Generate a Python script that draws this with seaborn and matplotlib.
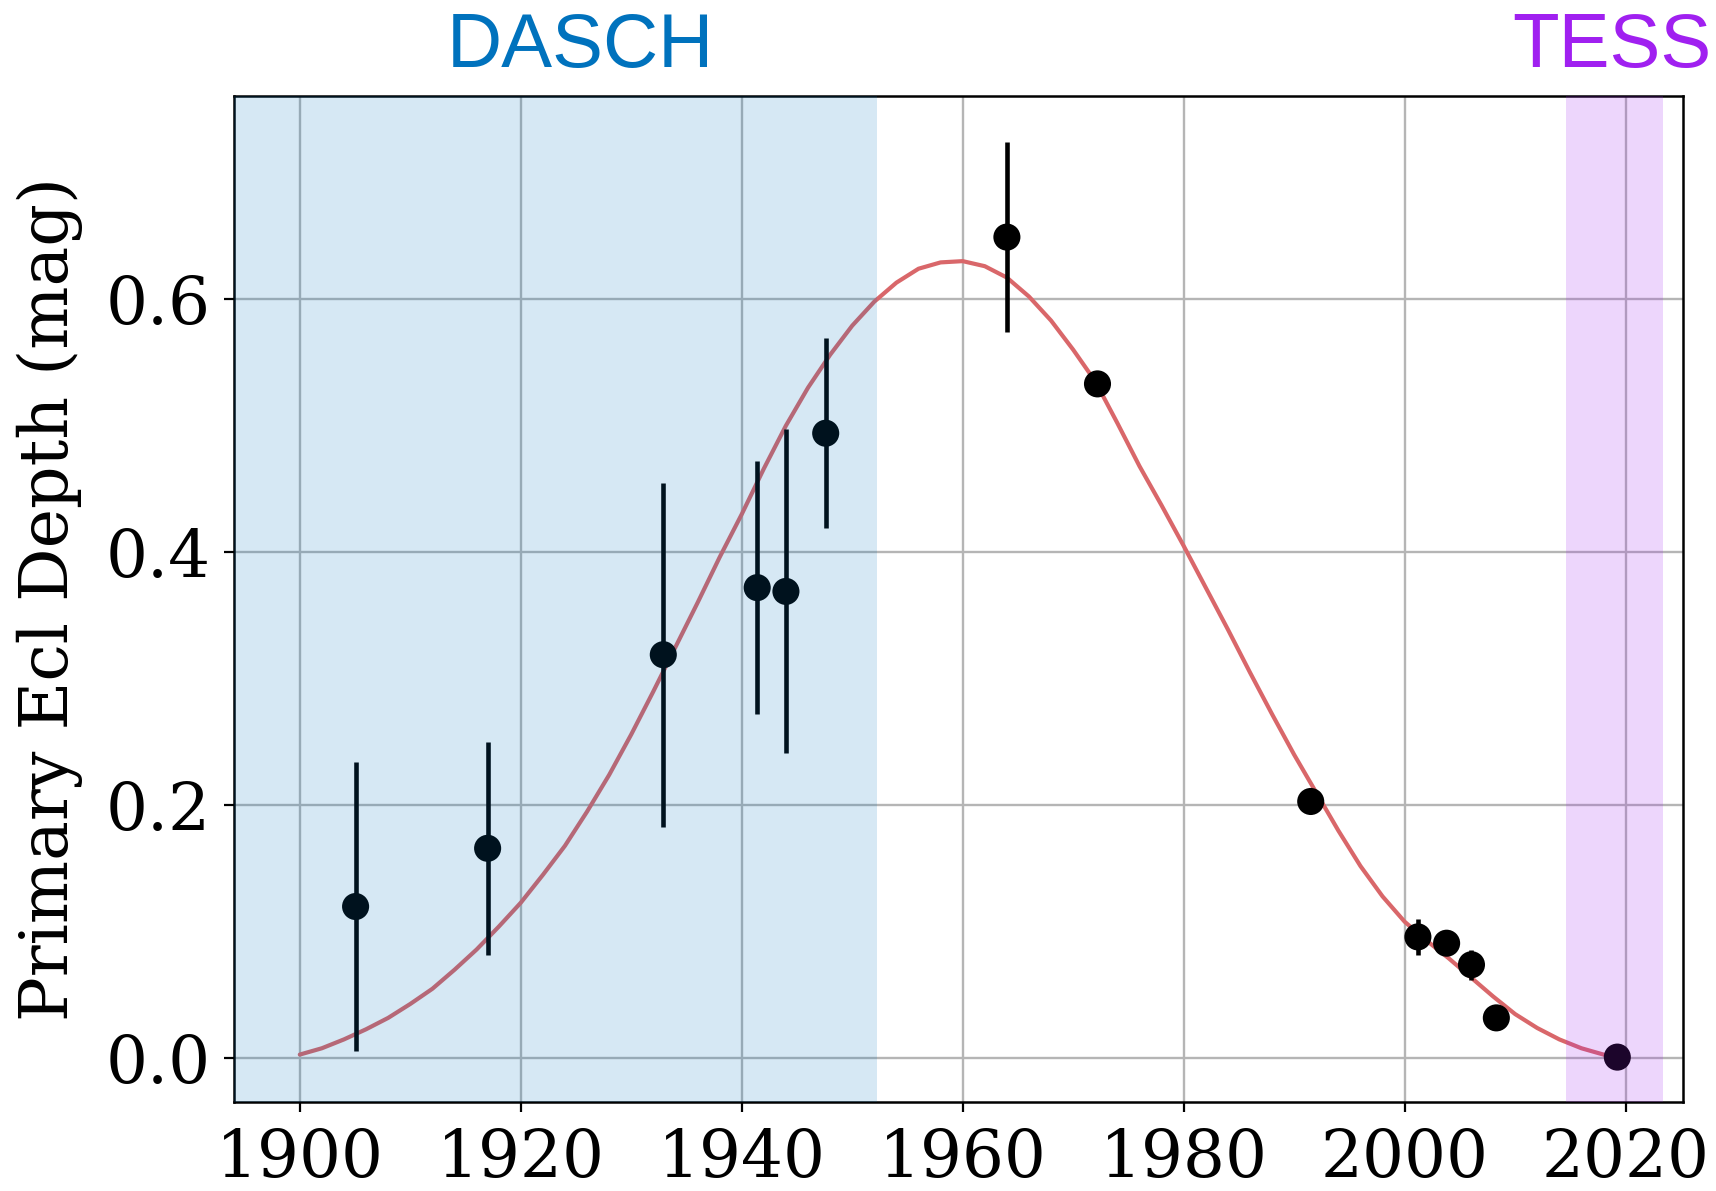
import numpy as np
import pandas as pd
import matplotlib
matplotlib.use("Agg")
import matplotlib.pyplot as plt
import seaborn as sns

# ---- data ----
obs_year = [1905.05, 1917.0, 1932.9, 1941.4, 1944.0, 1947.6, 1964.0, 1972.2,
            1991.5, 2001.2, 2003.8, 2006.05, 2008.3, 2019.25]
obs_depth = [0.120, 0.166, 0.319, 0.372, 0.369, 0.494, 0.649, 0.533,
             0.203, 0.096, 0.091, 0.074, 0.032, 0.001]
obs_err = [0.114, 0.084, 0.136, 0.100, 0.128, 0.075, 0.075, 0.004,
           0.004, 0.0145, 0.004, 0.012, 0.004, 0.004]

model_year = [1900, 1902, 1904, 1906, 1908, 1910, 1912, 1914, 1916, 1918,
              1920, 1922, 1924, 1926, 1928, 1930, 1932, 1934, 1936, 1938,
              1940, 1942, 1944, 1946, 1948, 1950, 1952, 1954, 1956, 1958,
              1960, 1962, 1964, 1966, 1968, 1970, 1972, 1974, 1976, 1978,
              1980, 1982, 1984, 1986, 1988, 1990, 1992, 1994, 1996, 1998,
              2000, 2002, 2004, 2006, 2008, 2010, 2012, 2014, 2016, 2018,
              2019.3]
model_depth = [0.003, 0.008, 0.015, 0.023, 0.032, 0.043, 0.055, 0.070, 0.086, 0.104,
               0.123, 0.145, 0.168, 0.195, 0.224, 0.256, 0.290, 0.325, 0.360, 0.396,
               0.430, 0.466, 0.500, 0.530, 0.556, 0.579, 0.598, 0.613, 0.624, 0.629,
               0.630, 0.626, 0.617, 0.602, 0.583, 0.560, 0.535, 0.502, 0.468, 0.437,
               0.405, 0.372, 0.339, 0.305, 0.272, 0.240, 0.210, 0.180, 0.152, 0.128,
               0.108, 0.093, 0.079, 0.064, 0.049, 0.035, 0.024, 0.015, 0.008, 0.003,
               0.000]

x_ticks = [1900, 1920, 1940, 1960, 1980, 2000, 2020]
y_ticks = [0.0, 0.2, 0.4, 0.6]
dasch_span = (1880, 1952.2)
tess_span = (2014.65, 2023.4)

obs = pd.DataFrame({"year": obs_year, "depth": obs_depth, "err": obs_err})
model = pd.DataFrame({"year": model_year, "depth": model_depth})

sns.set_theme(style="ticks")
plt.rcParams["font.family"] = ["DejaVu Serif"]
plt.rcParams["axes.unicode_minus"] = False
plt.rcParams["text.color"] = "black"
plt.rcParams["axes.labelcolor"] = "black"
plt.rcParams["xtick.color"] = "black"
plt.rcParams["ytick.color"] = "black"

fig = plt.figure(figsize=(17.16, 11.91), dpi=100)
ax = fig.add_axes([0.1364, 0.0747, 0.8444, 0.8447])

ax.grid(True, color="#b5b5b5", linewidth=1.7, zorder=0)
ax.set_axisbelow(True)

sns.lineplot(data=model, x="year", y="depth", ax=ax, color="#d9676a",
             linewidth=3.0, zorder=2, legend=False)
ax.errorbar(obs["year"], obs["depth"], yerr=obs["err"], fmt="none",
            ecolor="black", elinewidth=3.3, capsize=0, zorder=3)
sns.scatterplot(data=obs, x="year", y="depth", ax=ax, color="black", s=380,
                edgecolor="none", zorder=4, legend=False)

ax.axvspan(*dasch_span, color="#0072bd", alpha=0.16, lw=0, zorder=5)
ax.axvspan(*tess_span, color="#a020f0", alpha=0.18, lw=0, zorder=5)

ax.set_xlim(1894.05, 2025.2)
ax.set_ylim(-0.0345, 0.7605)
ax.set_xticks(x_ticks)
ax.set_yticks(y_ticks)
ax.set_xticklabels([str(t) for t in x_ticks])
ax.set_yticklabels([f"{t:.1f}" for t in y_ticks])
ax.tick_params(axis="both", labelsize=47.5, length=7, width=1.6, direction="out",
               color="black", labelcolor="black")
ax.tick_params(axis="x", pad=11)
ax.tick_params(axis="y", pad=10)
ax.set_xlabel("")
ax.set_ylabel("Primary Ecl Depth (mag)", fontsize=48, labelpad=16, color="black")
for sp in ax.spines.values():
    sp.set_color("black")
    sp.set_linewidth(1.8)
    sp.set_visible(True)

ax.text(1925.4, 1.048, "DASCH", transform=ax.get_xaxis_transform(),
        ha="center", va="center", fontsize=55, color="#0072bd",
        family=["Liberation Sans", "DejaVu Sans"])
ax.text(2018.8, 1.048, "TESS", transform=ax.get_xaxis_transform(),
        ha="center", va="center", fontsize=55, color="#a020f0",
        family=["Liberation Sans", "DejaVu Sans"], clip_on=False)

fig.savefig("out.png", dpi=100)
